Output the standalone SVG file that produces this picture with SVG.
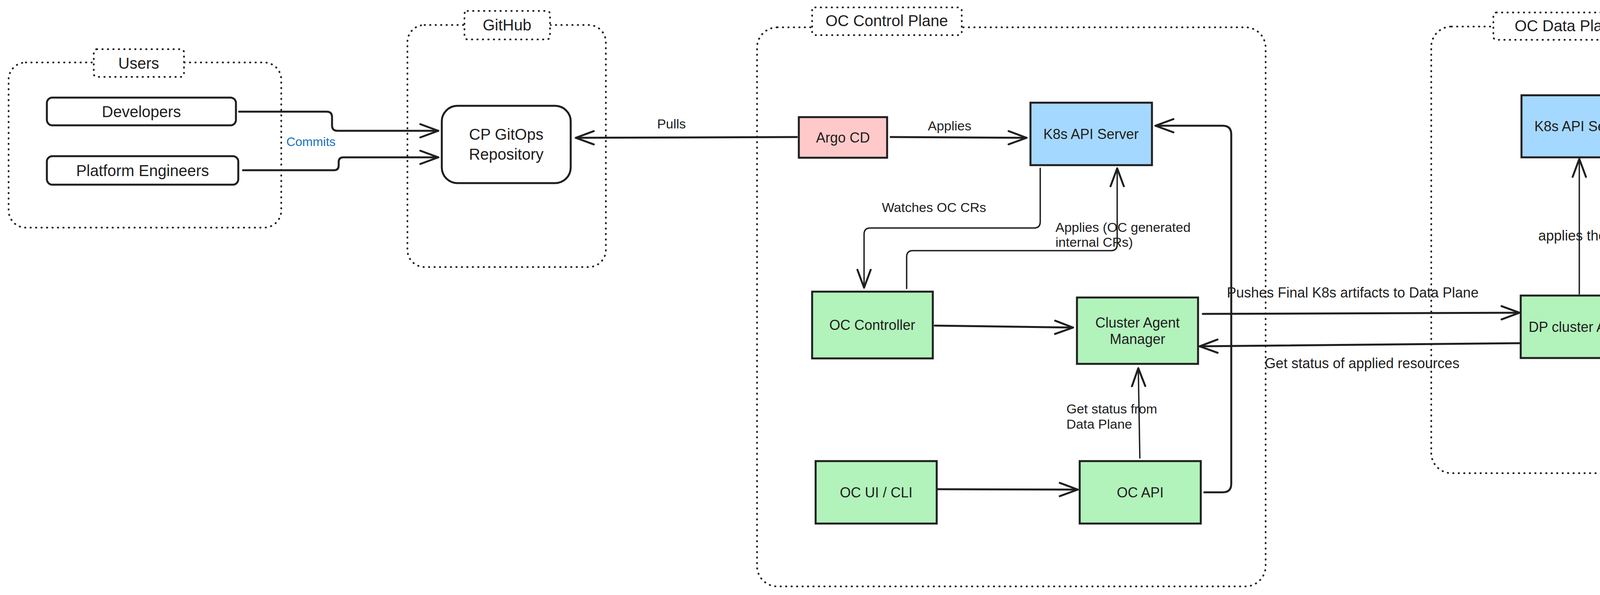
<svg xmlns="http://www.w3.org/2000/svg" width="4384" height="1524" viewBox="0 0 4384 1524">
<style>
text{font-family:"Liberation Sans",Arial,sans-serif;fill:#1e1e1e;text-anchor:middle;dominant-baseline:central}
.t40{font-size:40px}
.t36{font-size:36px}
.t34{font-size:34px}
.lft{text-anchor:start}
.blue{fill:#1971c2;font-size:32px}
.cont{fill:none;stroke:#1e1e1e;stroke-width:4.5;stroke-dasharray:1 13;stroke-linecap:round}
.lab{fill:#ffffff;stroke:#1e1e1e;stroke-width:4.5;stroke-dasharray:1 13;stroke-linecap:round}
.box{stroke:#1e1e1e;stroke-width:5}
.white{fill:#ffffff}
.green{fill:#b2f2bb}
.pink{fill:#ffc9c9}
.blueb{fill:#a5d8ff}
.ed{fill:none;stroke:#1e1e1e;stroke-width:5;stroke-linecap:round;stroke-linejoin:round;marker-end:url(#ah)}
.thin{stroke-width:3.5}
</style>
<defs>
<marker id="ah" viewBox="-52 -22 58 44" markerWidth="58" markerHeight="44" refX="0" refY="0" orient="auto" markerUnits="userSpaceOnUse">
<path d="M-46,-17 L0,0 L-46,17" fill="none" stroke="#1e1e1e" stroke-width="5" stroke-linecap="round" stroke-linejoin="round"/>
</marker>
</defs>

<g id="containers">
<g id="users-group">
<rect class="cont" x="22" y="160" width="698" height="423" rx="44"/>
<rect class="lab" x="240" y="126" width="231" height="71" rx="8"/>
<text class="t40" x="355" y="162">Users</text>
</g>
<g id="github-group">
<rect class="cont" x="1043" y="64" width="508" height="620" rx="44"/>
<rect class="lab" x="1189" y="28" width="219" height="73" rx="8"/>
<text class="t40" x="1298" y="64">GitHub</text>
</g>
<g id="control-plane-group">
<rect class="cont" x="1938" y="70" width="1302" height="1432" rx="52"/>
<rect class="lab" x="2079" y="19" width="383" height="71" rx="8"/>
<text class="t40" x="2270" y="53">OC Control Plane</text>
</g>
<g id="data-plane-group">
<rect class="cont" x="3664" y="68" width="702" height="1144" rx="52"/>
<rect class="lab" x="3823" y="32" width="379" height="70" rx="8"/>
<text class="t40" x="4012" y="66">OC Data Plane</text>
</g>
</g>

<g id="connectors">
<path class="ed" d="M612,286 L836,286 Q850,286 850,300 L850,321 Q850,335 864,335 L1122,335"/>
<path class="ed" d="M622,436 L855,436 Q867,436 867,424 L867,415 Q867,403 879,403 L1122,403"/>
<text class="blue" x="796" y="363">Commits</text>

<path class="ed" d="M2040,351 L1474,353"/>
<text class="t34" x="1719" y="317">Pulls</text>

<path class="ed" d="M2280,351 L2628,353"/>
<text class="t34" x="2431" y="322">Applies</text>

<path class="ed thin" d="M2663,431 L2663,568 Q2663,584 2647,584 L2228,584 Q2212,584 2212,600 L2212,737"/>
<text class="t34" x="2391" y="531">Watches OC CRs</text>

<path class="ed thin" d="M2321,739 L2321,658 Q2321,642 2337,642 L2844,642 Q2860,642 2860,626 L2860,431"/>
<text class="t34 lft" x="2702" y="582">Applies (OC generated</text>
<text class="t34 lft" x="2702" y="620">internal CRs)</text>

<path class="ed" d="M2393,834 L2747,839"/>
<path class="ed" d="M2400,1253 L2759,1254"/>

<path class="ed thin" d="M2918,1173 L2914,943"/>
<text class="t34 lft" x="2730" y="1047">Get status from</text>
<text class="t34 lft" x="2730" y="1086">Data Plane</text>

<path class="ed" d="M3083,1261 L3130,1261 Q3152,1261 3152,1239 L3152,344 Q3152,322 3130,322 L2958,322"/>

<path class="ed" d="M3079,804 L3890,801"/>
<text class="t36" x="3463" y="749">Pushes Final K8s artifacts to Data Plane</text>

<path class="ed" d="M3890,879 L3071,887"/>
<text class="t36" x="3487" y="930">Get status of applied resources</text>

<path class="ed thin" d="M4043,753 L4043,407"/>
<text class="t36" x="4126" y="603">applies the k8s artifacts</text>
</g>

<g id="developers">
<rect class="box white" x="120" y="250" width="484" height="71" rx="14"/>
<text class="t40" x="362" y="286">Developers</text>
</g>
<g id="platform-engineers">
<rect class="box white" x="120" y="400" width="490" height="73" rx="14"/>
<text class="t40" x="365" y="437">Platform Engineers</text>
</g>
<g id="gitops-repo">
<rect class="box white" x="1131" y="271" width="330" height="198" rx="40"/>
<text class="t40" x="1296" y="344">CP GitOps</text>
<text class="t40" x="1296" y="395">Repository</text>
</g>
<g id="argo-cd">
<rect class="box pink" x="2045" y="300" width="226" height="104"/>
<text class="t36" x="2158" y="352">Argo CD</text>
</g>
<g id="k8s-api-cp">
<rect class="box blueb" x="2638" y="263" width="311" height="160"/>
<text class="t36" x="2793" y="343">K8s API Server</text>
</g>
<g id="oc-controller">
<rect class="box green" x="2079" y="747" width="309" height="171"/>
<text class="t36" x="2233" y="832">OC Controller</text>
</g>
<g id="cluster-agent-manager">
<rect class="box green" x="2757" y="762" width="310" height="170"/>
<text class="t36" x="2912" y="826">Cluster Agent</text>
<text class="t36" x="2912" y="868">Manager</text>
</g>
<g id="oc-ui-cli">
<rect class="box green" x="2088" y="1181" width="310" height="160"/>
<text class="t36" x="2243" y="1261">OC UI / CLI</text>
</g>
<g id="oc-api">
<rect class="box green" x="2764" y="1181" width="310" height="160"/>
<text class="t36" x="2919" y="1261">OC API</text>
</g>
<g id="k8s-api-dp">
<rect class="box blueb" x="3895" y="244" width="310" height="159"/>
<text class="t36" x="4050" y="323">K8s API Server</text>
</g>
<g id="dp-cluster-agent">
<rect class="box green" x="3893" y="757" width="309" height="160"/>
<text class="t36" x="4047" y="837">DP cluster Agent</text>
</g>
</svg>
